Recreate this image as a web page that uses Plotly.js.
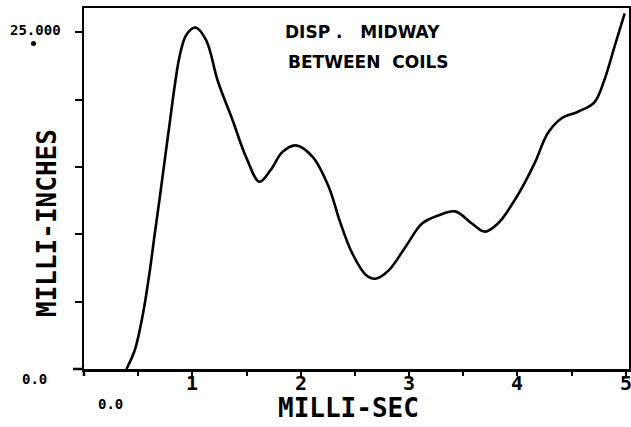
<!DOCTYPE html>
<html>
<head>
<meta charset="utf-8">
<script src="https://cdn.plot.ly/plotly-3.0.1.min.js"></script>
<style>html,body{margin:0;padding:0;background:#fff;}#chart{width:631px;height:427px;}</style>
</head>
<body>
<div id="chart"></div>
<script>
// Displacement midway between coils (milli-inches) vs time (milli-sec)
const timeMs = [0.392, 0.469, 0.545, 0.607, 0.653, 0.699, 0.745, 0.79, 0.836, 0.882, 0.944, 1.029, 1.128, 1.234, 1.37, 1.495, 1.62, 1.725, 1.83, 1.955, 2.11, 2.26, 2.36, 2.475, 2.6, 2.69, 2.81, 2.97, 3.12, 3.27, 3.425, 3.58, 3.70, 3.82, 4.01, 4.16, 4.28, 4.405, 4.56, 4.71, 4.80, 4.895, 4.99];
const dispMilliIn = [0.0, 1.41, 4.13, 7.27, 10.04, 12.71, 15.5, 18.2, 20.95, 23.2, 24.8, 25.35, 24.4, 21.4, 18.5, 15.75, 13.9, 14.8, 16.1, 16.6, 15.75, 13.5, 11.0, 8.6, 7.0, 6.7, 7.3, 9.1, 10.8, 11.4, 11.7, 10.8, 10.2, 10.8, 13.0, 15.3, 17.5, 18.6, 19.1, 19.8, 21.4, 23.9, 26.4];
const xTickVals = [1, 2, 3, 4, 5];
const xTickText = ["1", "2", "3", "4", "5"];
const yTickVals = [5, 10, 15, 20, 25];
const titleLines = ["DISP .   MIDWAY", "BETWEEN  COILS"];
const xTitle = "MILLI-SEC";
const yTitle = "MILLI-INCHES";

const FONT = "DejaVu Sans Mono";
const L = 84, R = 2, T = 8, B = 58, W = 631, H = 427;
const pw = W - L - R, ph = H - T - B;
const px = v => (v - L) / pw;           // pixel -> paper x
const py = v => (H - B - v) / ph;       // pixel -> paper y

const trace = {
  x: timeMs, y: dispMilliIn, type: "scatter", mode: "lines",
  line: {color: "#000", width: 2.6, shape: "spline", smoothing: 1},
  hoverinfo: "skip"
};

const fnt = (size, fam) => ({family: fam || FONT, size: size, color: "#000", weight: "bold"});
const ann = (text, x, y, size, extra) => Object.assign({
  text: text, xref: "paper", yref: "paper", x: px(x), y: py(y),
  showarrow: false, xanchor: "center", yanchor: "middle",
  font: fnt(size)
}, extra || {});

const tickAnns = xTickVals.map((v, i) => ({
  text: xTickText[i], xref: "x", yref: "paper", x: v, y: py(383),
  showarrow: false, xanchor: "center", yanchor: "middle", font: fnt(20)
}));

const layout = {
  width: W, height: H,
  margin: {l: L, r: R, t: T, b: B},
  paper_bgcolor: "#fff", plot_bgcolor: "#fff",
  showlegend: false,
  xaxis: {
    range: [0, 5.03], tickvals: xTickVals, ticktext: ["", "", "", "", ""],
    ticks: "outside", ticklen: 4, tickwidth: 2, tickcolor: "#000",
    minor: {dtick: 0.5, tick0: 0, ticks: "outside", ticklen: 4, tickwidth: 2, tickcolor: "#000"},
    showline: true, linecolor: "#000", linewidth: 2.5, mirror: true,
    showgrid: false, zeroline: false
  },
  yaxis: {
    range: [0, 26.8], tickvals: yTickVals, ticktext: ["", "", "", "", ""],
    ticks: "outside", ticklen: 7, tickwidth: 2, tickcolor: "#000",
    showline: true, linecolor: "#000", linewidth: 2.5, mirror: true,
    showgrid: false, zeroline: false
  },
  shapes: [
    {type: "line", xref: "paper", yref: "paper", x0: px(73), x1: px(84), y0: 0, y1: 0, line: {color: "#000", width: 2.5}},
    {type: "line", xref: "paper", yref: "paper", x0: 0, x1: 0, y0: py(376), y1: 0, line: {color: "#000", width: 2.5}},
    {type: "circle", xref: "paper", yref: "paper", x0: px(31), x1: px(36), y0: py(46), y1: py(41), fillcolor: "#000", line: {color: "#000", width: 0}}
  ],
  annotations: tickAnns.concat([
    ann(titleLines[0], 362, 32, 17, {font: fnt(17, "DejaVu Sans")}),
    ann(titleLines[1], 368, 62, 17, {font: fnt(17, "DejaVu Sans")}),
    ann(xTitle, 348, 408, 26),
    ann(yTitle, 47, 223, 26, {textangle: -90}),
    ann("25.000", 35, 30, 14),
    ann("0.0", 34, 379, 14),
    ann("0.0", 110, 404, 14)
  ])
};

Plotly.newPlot("chart", [trace], layout, {staticPlot: true, displayModeBar: false});
</script>
</body>
</html>
